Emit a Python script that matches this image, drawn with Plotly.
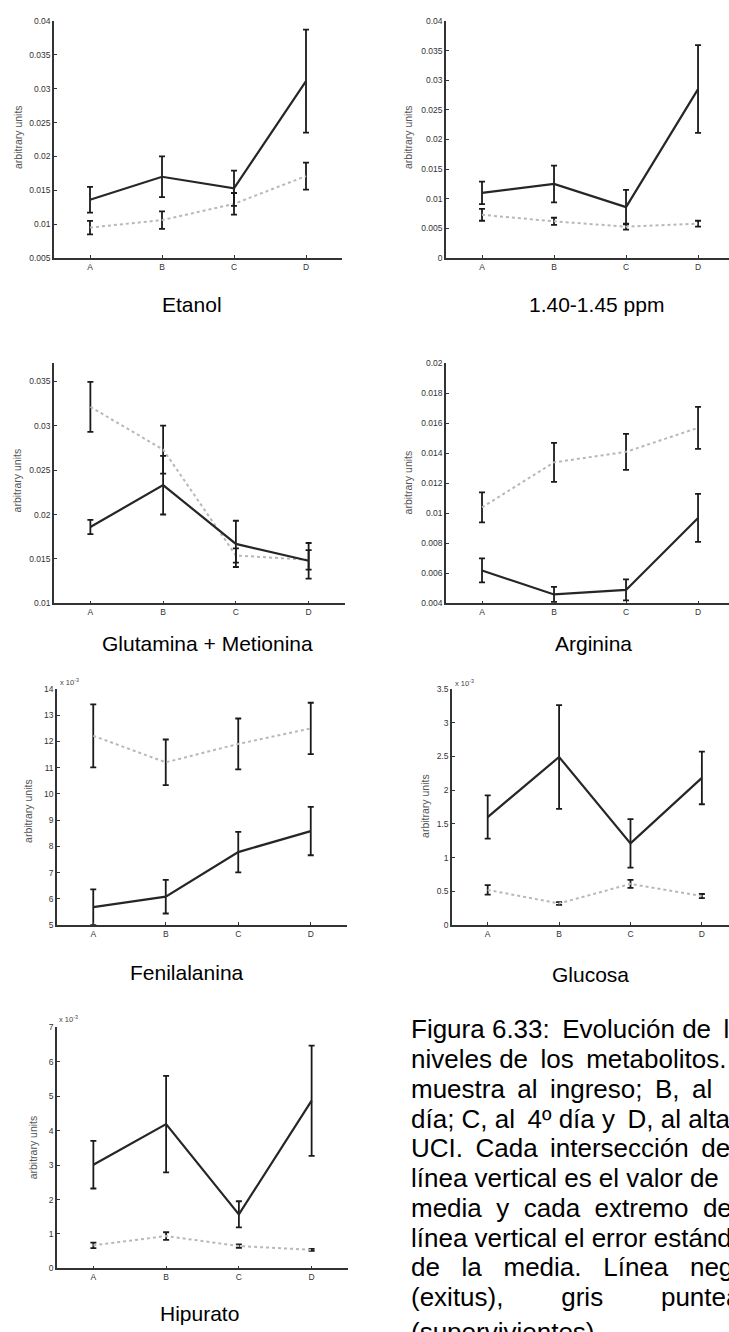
import plotly.graph_objects as go

W, H = 729, 1332

cats = ["A", "B", "C", "D"]
xpos = [1, 2, 3, 4]

# ---- data (mean and standard error), black = exitus, grey = survivors ----
etanol_exitus = [0.0136, 0.0170, 0.0153, 0.0311]
etanol_exitus_se = [0.0019, 0.0030, 0.0026, 0.0076]
etanol_surv = [0.0095, 0.0106, 0.0130, 0.0171]
etanol_surv_se = [0.0010, 0.0013, 0.0016, 0.0020]

ppm_exitus = [0.0110, 0.0125, 0.0086, 0.0285]
ppm_exitus_se = [0.0019, 0.0031, 0.0029, 0.0074]
ppm_surv = [0.0073, 0.0062, 0.0053, 0.0058]
ppm_surv_se = [0.0010, 0.0006, 0.0005, 0.0005]

glut_exitus = [0.0186, 0.0233, 0.0167, 0.0148]
glut_exitus_se = [0.0008, 0.0033, 0.0026, 0.0020]
glut_surv = [0.0321, 0.0273, 0.0154, 0.0149]
glut_surv_se = [0.0028, 0.0027, 0.0008, 0.0011]

arg_exitus = [0.0062, 0.0046, 0.0049, 0.0097]
arg_exitus_se = [0.0008, 0.0005, 0.0007, 0.0016]
arg_surv = [0.0104, 0.0134, 0.0141, 0.0157]
arg_surv_se = [0.0010, 0.0013, 0.0012, 0.0014]

fen_exitus = [5.68, 6.08, 7.78, 8.58]      # x 10^-3
fen_exitus_se = [0.68, 0.64, 0.77, 0.92]
fen_surv = [12.21, 11.20, 11.90, 12.49]
fen_surv_se = [1.20, 0.87, 0.97, 0.98]

gluc_exitus = [1.60, 2.49, 1.21, 2.18]     # x 10^-3
gluc_exitus_se = [0.32, 0.77, 0.36, 0.39]
gluc_surv = [0.52, 0.32, 0.61, 0.43]
gluc_surv_se = [0.07, 0.02, 0.06, 0.03]

hip_exitus = [3.01, 4.19, 1.57, 4.87]      # x 10^-3
hip_exitus_se = [0.69, 1.40, 0.38, 1.60]
hip_surv = [0.67, 0.94, 0.65, 0.54]
hip_surv_se = [0.08, 0.11, 0.05, 0.03]

captions = ["Etanol", "1.40-1.45 ppm", "Glutamina + Metionina", "Arginina",
            "Fenilalanina", "Glucosa", "Hipurato"]

# justified caption paragraph: words per line and the gaps used between them
NB = "\u00a0"
TH = "\u2009"
paragraph_words = [
    (["Figura", "6.33:", "Evolución", "de", "los"], [NB, NB + TH, NB, NB + TH]),
    (["niveles", "de", "los", "metabolitos.", "A,"], [NB, NB + TH, NB + TH, NB]),
    (["muestra", "al", "ingreso;", "B,", "al", "2º"], [NB + TH] * 4 + [NB * 3]),
    (["día;", "C,", "al", "4º", "día", "y", "D,", "al", "alta", "de"],
     [NB, NB, NB + TH, NB, NB, NB + TH, NB, NB, NB]),
    (["UCI.", "Cada", "intersección", "de", "la"], [NB + TH] * 4),
    (["línea", "vertical", "es", "el", "valor", "de", "la"], [NB] * 5 + [NB * 2]),
    (["media", "y", "cada", "extremo", "de", "la"], [NB * 2] * 5),
    (["línea", "vertical", "el", "error", "estándar"], [NB] * 4),
    (["de", "la", "media.", "Línea", "negra"], [NB * 3] * 4),
    (["(exitus),", "gris", "punteada"], [NB * 8] * 2),
    (["(supervivientes)."], []),
]
paragraph_y = [1032, 1062, 1092, 1122, 1152, 1182, 1212, 1242, 1272, 1302, 1337]


def join_words(words, gaps):
    out = words[0]
    for g, w in zip(gaps, words[1:]):
        out += g + w
    return out


# ---- panel geometry (pixels) ----
panels = [
    dict(x0=54, x1=342, yt=16, yb=255, xr=[0.5, 4.5], yr=[0.005, 0.04], dt=0.005,
         blk=(etanol_exitus, etanol_exitus_se), gry=(etanol_surv, etanol_surv_se),
         lab=(18, 133), cap=(192, 302), exp=None),
    dict(x0=446, x1=729, yt=16, yb=255, xr=[0.5, 4.43], yr=[0.0, 0.04], dt=0.005,
         blk=(ppm_exitus, ppm_exitus_se), gry=(ppm_surv, ppm_surv_se),
         lab=(408, 133), cap=(596, 302), exp=None),
    dict(x0=54, x1=345, yt=361, yb=603, xr=[0.5, 4.5], yr=[0.01, 0.037], dt=0.005,
         blk=(glut_exitus, glut_exitus_se), gry=(glut_surv, glut_surv_se),
         lab=(17, 479), cap=(207, 643), exp=None),
    dict(x0=446, x1=729, yt=361, yb=603, xr=[0.5, 4.43], yr=[0.004, 0.02], dt=0.002,
         blk=(arg_exitus, arg_exitus_se), gry=(arg_surv, arg_surv_se),
         lab=(408, 481), cap=(593, 643), exp=None),
    dict(x0=57, x1=347, yt=689, yb=927, xr=[0.5, 4.5], yr=[5, 14], dt=1,
         blk=(fen_exitus, fen_exitus_se), gry=(fen_surv, fen_surv_se),
         lab=(28, 812), cap=(187, 975), exp=(58, 682)),
    dict(x0=452, x1=729, yt=689, yb=927, xr=[0.5, 4.38], yr=[0, 3.5], dt=0.5,
         blk=(gluc_exitus, gluc_exitus_se), gry=(gluc_surv, gluc_surv_se),
         lab=(425, 807), cap=(590, 977), exp=(453, 683)),
    dict(x0=57, x1=348, yt=1030, yb=1273, xr=[0.5, 4.5], yr=[0, 7], dt=1,
         blk=(hip_exitus, hip_exitus_se), gry=(hip_surv, hip_surv_se),
         lab=(33, 1151), cap=(199, 1318), exp=(57, 1022)),
]

fig = go.Figure()
annotations = []
FONT = "Liberation Sans, Arial, sans-serif"

axis_common = dict(showline=True, linecolor="#333", linewidth=1.5, mirror=False,
                   ticks="inside", ticklen=3, tickwidth=1, tickcolor="#333",
                   showgrid=False, zeroline=False,
                   tickfont=dict(family=FONT, size=8.5, color="#333"))

for i, p in enumerate(panels):
    n = i + 1
    xa = "x" if n == 1 else f"x{n}"
    ya = "y" if n == 1 else f"y{n}"
    gm, gse = p["gry"]
    bm, bse = p["blk"]
    fig.add_trace(go.Scatter(
        x=xpos, y=gm, xaxis=xa, yaxis=ya, mode="lines",
        line=dict(color="#b8b8b8", width=2, dash="dot"),
        error_y=dict(type="data", array=gse, color="#1a1a1a", thickness=1.8, width=3),
        cliponaxis=False, showlegend=False))
    fig.add_trace(go.Scatter(
        x=xpos, y=bm, xaxis=xa, yaxis=ya, mode="lines",
        line=dict(color="#262626", width=2.2),
        error_y=dict(type="data", array=bse, color="#1a1a1a", thickness=1.8, width=3),
        cliponaxis=False, showlegend=False))

    xkey = "xaxis" if n == 1 else f"xaxis{n}"
    ykey = "yaxis" if n == 1 else f"yaxis{n}"
    fig.update_layout(**{
        xkey: dict(axis_common, domain=[p["x0"] / W, p["x1"] / W], range=p["xr"],
                   anchor=ya, tickvals=xpos, ticktext=cats),
        ykey: dict(axis_common, domain=[1 - p["yb"] / H, 1 - p["yt"] / H],
                   range=[p["yr"][0], p["yr"][1] + 1e-9], anchor=xa,
                   tick0=p["yr"][0], dtick=p["dt"]),
    })

    lx, ly = p["lab"]
    annotations.append(dict(text="arbitrary units", x=lx / W, y=1 - ly / H,
                            xref="paper", yref="paper", showarrow=False, textangle=-90,
                            xanchor="center", yanchor="middle",
                            font=dict(family=FONT, size=10.5, color="#555")))
    cx, cy = p["cap"]
    annotations.append(dict(text=captions[i], x=cx / W, y=1 - cy / H,
                            xref="paper", yref="paper", showarrow=False,
                            xanchor="center", yanchor="middle",
                            font=dict(family=FONT, size=21, color="#000")))
    if p["exp"] is not None:
        ex, ey = p["exp"]
        annotations.append(dict(text="x 10<sup>-3</sup>", x=ex / W, y=1 - ey / H,
                                xref="paper", yref="paper", showarrow=False,
                                xanchor="left", yanchor="middle",
                                font=dict(family=FONT, size=7.5, color="#444")))

# caption paragraph (right part is cut by the page edge, as in the scan)
for (words, gaps), y_px in zip(paragraph_words, paragraph_y):
    annotations.append(dict(text=join_words(words, gaps), x=409 / W, y=1 - y_px / H,
                            xref="paper", yref="paper", showarrow=False,
                            xanchor="left", yanchor="middle",
                            font=dict(family=FONT, size=26, color="#000")))

fig.update_layout(width=W, height=H, margin=dict(l=0, r=0, t=0, b=0),
                  paper_bgcolor="white", plot_bgcolor="white",
                  showlegend=False, annotations=annotations)

fig.write_html("out.html", config={"displayModeBar": False},
               post_script="document.body.style.margin='0';"
                           "document.body.style.overflow='hidden';")
